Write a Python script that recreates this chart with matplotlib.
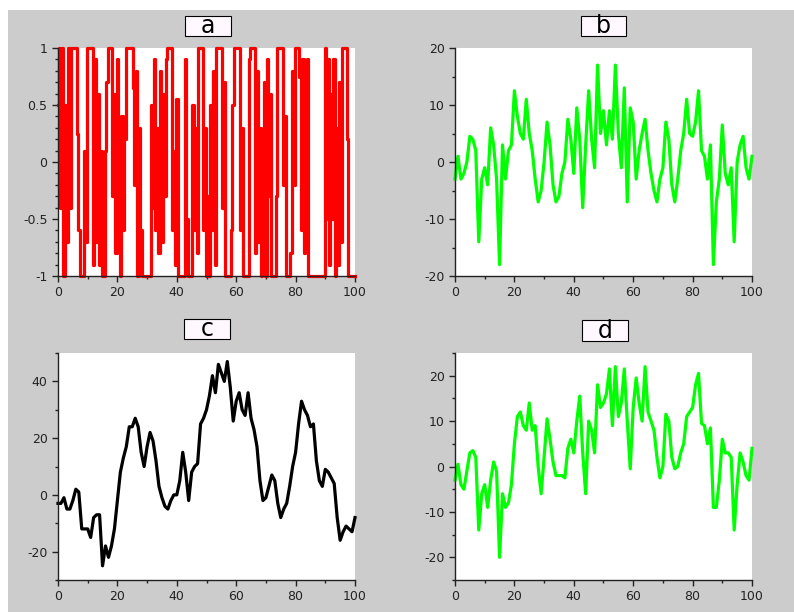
import numpy as np
import matplotlib.pyplot as plt
from matplotlib.patches import Rectangle
from matplotlib.ticker import MultipleLocator, FormatStrFormatter

x = np.arange(0, 101)
x_a = np.arange(0, 201) * 0.5

# panel a: switching signal between -1 and 1, sampled every 0.5
sig_a = [0.5, 1, -0.4, 1, -1, 0.5, -0.7, 1, -0.4, 1,
         1, 1, 1, 0.25, -0.6, -1, -1, -1, 0.1, -0.7,
         1, 1, 1, 1, -0.9, 0.9, -0.7, 0.6, -0.9, 0.1,
         -1, -1, 0.1, 0.7, 1, 1, 1, -0.3, 0.6, -0.8,
         0.9, -0.2, -1, 0.4, -0.6, 0.2, 1, 1, 1, 1,
         1, 0.65, -0.2, 0.8, -1, 0.3, -0.6, -1, -1, -1,
         -1, -1, -1, 0.5, -0.4, 0.9, -0.6, 0.3, -0.8, 0.8,
         -0.7, 0.6, -0.3, 0.9, 1, 1, 1, -0.6, 0.1, -0.9,
         0.55, -1, -1, -1, -1, -1, 0.9, -0.5, -1, -1,
         -1, 0.5, -0.6, 0.3, -0.8, 1, 1, 1, -0.6, 0.3,
         -1, -0.3, -1, 0.5, -0.6, 0.8, -0.9, 1, 1, 1,
         1, -0.4, 0.7, -1, -1, -1, -1, -0.6, 0.5, 1,
         1, 1, 1, -0.6, 0.3, -1, -1, -1, -1, 0.9,
         1, 1, 1, -0.8, 0.8, -0.7, 0.3, -1, -0.4, 0.7,
         -1, 0.9, -0.3, 0.6, -1, -1, -1, -0.3, 1, 1,
         1, 1, -0.2, 0.4, -1, -1, -1, -0.8, 0.8, -0.2,
         1, 1, 1, 0.75, -0.6, 0.9, -0.8, 0.2, 0.9, -1,
         -1, -1, -1, -1, -1, -1, -1, -1, -1, -1,
         1, -0.5, 0.9, -0.9, 0.6, -0.5, 0.9, -1, 0.3, -0.9,
         0.7, -0.7, 1, 1, 1, 0.2, -1, -1, -1, -1,
         -1]

sig_b = [-3, 1, -3, -2, 0, 4.5, 4, 2, -14, -3,
         -1, -4, 6, 3, -3, -18, 3, -3, 2, 3,
         12.5, 8, 5, 4, 11, 5, 2, -3, -7, -5,
         0, 7, 3, -4, -7, -6, -2, 0, 7.5, 4,
         -2, 9.5, 4, -8, 3, 12.5, 4, -1, 17, 5,
         9, 3, 9, 4, 17, 5, -1, 13, -7, 9.5,
         7, -3, 2, 5, 7.5, 2, -2, -5, -7, -3,
         -1, 7, 4, -4, -7, -3, 2, 5, 11, 5,
         4.5, 7, 12.5, 2, 1, -3, 3, -18, -7, -3,
         6.5, -2, -4, -1, -14, 0, 3, 4.5, -1, -3, 1]

sig_c = [-3, -3, -1, -5, -5, -2, 2, 1, -12, -12,
         -12, -15, -8, -7, -7, -25, -18, -22, -18, -12,
         -2, 8, 13, 17, 24, 24, 27, 24, 15, 10,
         17, 22, 19, 12, 3, -1, -4, -5, -2, 0,
         0, 5, 15, 8, -2, 8, 10, 11, 25, 27,
         30, 35, 42, 36, 46, 43, 40, 47, 38, 26,
         33, 36, 30, 28, 36, 27, 23, 17, 5, -2,
         -1, 3, 7, 5, -3, -8, -5, -3, 3, 10,
         15, 25, 33, 30, 28, 24, 25, 12, 5, 3,
         9, 8, 6, 4, -8, -16, -13, -11, -12, -13, -8]

sig_d = [-3, 0.5, -4, -5, -1, 3, 3.5, 2, -14, -6,
         -4, -9, -3, 1, -1, -20, -6, -9, -8, -4,
         5, 11, 12, 9, 8, 14, 8, 9, 0, -6,
         2, 10.5, 6, 1, -2, -2, -2, -2.5, 4, 6,
         3, 10, 15.5, 3, -6, 10, 8, 3, 18, 13,
         14, 16, 21.5, 9, 22, 11, 14, 21.5, 10, -0.5,
         13, 19.5, 14, 10, 22, 12, 10, 8, 2, -2.5,
         0, 11.5, 10, 2, -0.5, 0, 3, 5, 11, 12,
         13, 18, 20.5, 9.5, 9, 5, 8.5, -9, -9, -3,
         6, 3, 3, 2, -14, -4, 3, 1, -2, -3, 4]

titles = ['a', 'b', 'c', 'd']

W, H = 794, 612
fig = plt.figure(figsize=(W / 100, H / 100), dpi=100, facecolor='white')
fig.patches.append(Rectangle((8 / W, 0), 1, 1 - 10 / H, transform=fig.transFigure,
                             facecolor='#cccccc', edgecolor='none', zorder=-10))

panels = [
    # left, right, top, bottom in pixels; x, y; colour; step style; ylim; y steps; title box
    (58, 355, 48, 276, x_a, sig_a, '#ff0000', 'steps-mid', (-1, 1), 0.5, 0.1, (185, 231, 16, 36)),
    (455, 752, 48, 276, x, sig_b, '#00ff00', 'default', (-20, 20), 10, 5, (581, 626, 16, 36)),
    (58, 355, 353, 580, x, sig_c, '#000000', 'default', (-30, 50), 20, 10, (184, 230, 319, 339)),
    (455, 752, 353, 580, x, sig_d, '#00ff00', 'default', (-25, 25), 10, 5, (582, 628, 320, 341)),
]

for (l, r, t, b, xx, y, col, ds, ylim, maj, mnr, box), title in zip(panels, titles):
    ax = fig.add_axes([l / W, 1 - b / H, (r - l) / W, (b - t) / H])
    ax.plot(xx, y, color=col, lw=2.3, drawstyle=ds, clip_on=False)
    ax.set_xlim(0, 100)
    ax.set_ylim(*ylim)
    ax.xaxis.set_major_locator(MultipleLocator(20))
    ax.xaxis.set_minor_locator(MultipleLocator(10))
    ax.yaxis.set_major_locator(MultipleLocator(maj))
    ax.yaxis.set_minor_locator(MultipleLocator(mnr))
    ax.yaxis.set_major_formatter(FormatStrFormatter('%g'))
    for s in ['top', 'right']:
        ax.spines[s].set_visible(False)
    for s in ['left', 'bottom']:
        ax.spines[s].set_color('#222222')
        ax.spines[s].set_linewidth(1.0)
    ax.tick_params(which='major', length=4.5, width=1, color='#222222',
                   labelsize=9, labelcolor='#222222', pad=3)
    ax.tick_params(which='minor', length=2.5, width=1, color='#222222')
    ax.set_facecolor('white')

    bl, br, bt, bb = box
    fig.patches.append(Rectangle((bl / W, 1 - bb / H), (br - bl) / W, (bb - bt) / H,
                                 transform=fig.transFigure, facecolor='#fff8ff',
                                 edgecolor='black', lw=0.8, zorder=5))
    fig.text((bl + br) / 2 / W, 1 - (bt + bb) / 2 / H, title, ha='center', va='center',
             fontsize=17, zorder=6)

fig.savefig('out.png', dpi=100, facecolor=fig.get_facecolor())
